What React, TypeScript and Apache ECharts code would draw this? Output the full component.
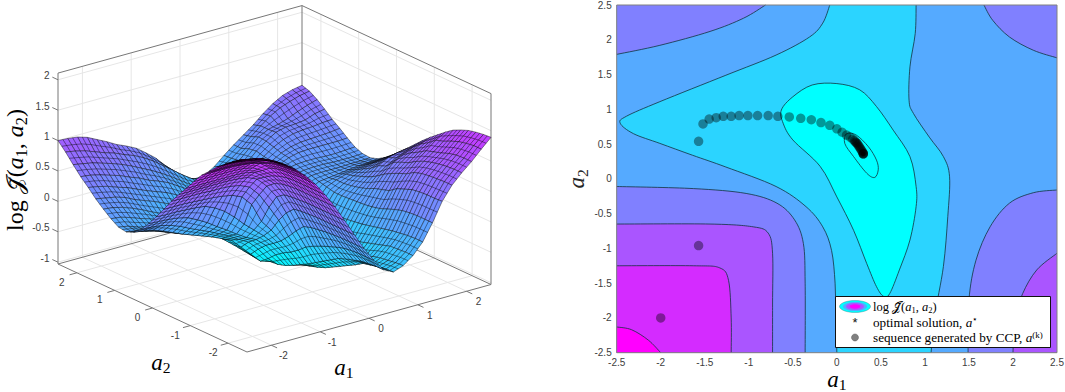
import React, { useEffect, useRef } from "react";
import * as echarts from "echarts";

const serif = "'Liberation Serif','DejaVu Serif',serif";
const sans = "'Liberation Sans',Arial,sans-serif";

// ---------- 3D surface values: rows are a2 = -2.5..2.5, columns a1 = -2.5..2.5, both in steps of 0.2
const surfaceA = [-2.5,-2.3,-2.1,-1.9,-1.7,-1.5,-1.3,-1.1,-0.9,-0.7,-0.5,-0.3,-0.1,0.1,0.3,0.5,0.7,0.9,1.1,1.3,1.5,1.7,1.9,2.1,2.3,2.5];
const surfaceRows = [
[2.12,2.09,2.04,1.97,1.87,1.75,1.6,1.42,1.2,.96,.69,.41,.14,-.1,-.3,-.38,-.32,-.2,-.02,.25,.56,.78,.94,1.08,1.24,1.39],
[2.07,2.03,2,1.94,1.85,1.74,1.6,1.42,1.2,.96,.69,.41,.14,-.1,-.3,-.39,-.33,-.2,-.02,.25,.55,.78,.94,1.08,1.24,1.38],
[1.98,1.97,1.94,1.9,1.82,1.73,1.59,1.42,1.2,.96,.69,.41,.14,-.1,-.31,-.41,-.35,-.21,-.03,.25,.55,.77,.93,1.07,1.22,1.36],
[1.88,1.88,1.86,1.83,1.79,1.71,1.58,1.41,1.2,.96,.69,.41,.14,-.11,-.33,-.44,-.37,-.22,-.05,.24,.54,.76,.91,1.04,1.19,1.33],
[1.78,1.78,1.77,1.75,1.72,1.67,1.56,1.4,1.2,.96,.69,.41,.13,-.13,-.37,-.47,-.4,-.26,-.07,.22,.52,.74,.88,.99,1.14,1.28],
[1.65,1.65,1.65,1.64,1.62,1.59,1.52,1.38,1.19,.96,.69,.41,.12,-.17,-.41,-.55,-.46,-.3,-.1,.18,.47,.7,.84,.95,1.08,1.22],
[1.53,1.53,1.53,1.53,1.52,1.5,1.46,1.34,1.16,.95,.68,.4,.1,-.22,-.46,-.62,-.51,-.34,-.13,.13,.42,.62,.78,.91,1.04,1.13],
[1.37,1.37,1.37,1.37,1.37,1.36,1.33,1.24,1.11,.93,.67,.39,.08,-.27,-.54,-.69,-.58,-.38,-.16,.08,.33,.57,.7,.83,.94,1.03],
[1.2,1.2,1.2,1.2,1.2,1.2,1.19,1.15,1.03,.88,.65,.37,.04,-.33,-.62,-.76,-.66,-.43,-.19,.05,.29,.51,.65,.76,.86,.93],
[1.04,1.04,1.04,1.04,1.04,1.04,1.03,1.01,.94,.78,.56,.25,-.09,-.4,-.7,-.83,-.71,-.47,-.21,.03,.25,.44,.59,.67,.75,.82],
[.87,.87,.87,.87,.86,.86,.85,.82,.75,.58,.33,.07,-.24,-.51,-.78,-.88,-.76,-.5,-.23,.02,.19,.35,.47,.56,.63,.7],
[.68,.68,.68,.67,.66,.65,.63,.6,.53,.36,.04,-.15,-.37,-.6,-.85,-.92,-.78,-.5,-.24,.01,.15,.28,.42,.51,.55,.58],
[.5,.49,.49,.48,.47,.45,.38,.28,.14,-.02,-.16,-.3,-.47,-.67,-.92,-.95,-.79,-.5,-.24,0,.12,.23,.32,.39,.43,.46],
[.33,.32,.31,.29,.25,.17,.08,-.03,-.13,-.24,-.34,-.42,-.56,-.76,-.98,-.98,-.77,-.47,-.22,0,.1,.18,.25,.3,.33,.35],
[.18,.17,.15,.11,.05,-.03,-.1,-.17,-.25,-.33,-.43,-.52,-.68,-.88,-1.02,-.97,-.7,-.42,-.15,.03,.1,.15,.18,.21,.23,.25],
[.07,.05,.02,-.04,-.11,-.18,-.24,-.3,-.36,-.43,-.5,-.66,-.82,-.98,-1.03,-.88,-.58,-.3,-.03,.06,.08,.1,.12,.14,.15,.17],
[.02,-.01,-.06,-.1,-.16,-.22,-.26,-.31,-.36,-.42,-.55,-.68,-.82,-.96,-.9,-.7,-.43,-.12,.05,.1,.11,.11,.11,.12,.12,.13],
[.04,.01,-.05,-.09,-.14,-.19,-.24,-.29,-.34,-.42,-.53,-.64,-.74,-.82,-.74,-.54,-.28,0,.1,.13,.14,.14,.13,.13,.13,.14],
[.12,.1,.05,-.01,-.06,-.12,-.17,-.23,-.29,-.38,-.5,-.6,-.67,-.68,-.6,-.42,-.16,.06,.14,.17,.18,.18,.17,.17,.18,.19],
[.22,.2,.16,.1,.03,-.05,-.12,-.19,-.27,-.34,-.44,-.51,-.55,-.54,-.49,-.35,-.13,.05,.15,.22,.26,.27,.27,.27,.27,.28],
[.33,.3,.27,.22,.14,.08,.02,-.05,-.12,-.2,-.28,-.36,-.41,-.42,-.38,-.28,-.1,.03,.15,.24,.3,.33,.34,.35,.36,.38],
[.46,.43,.39,.33,.28,.21,.14,.08,.02,-.06,-.15,-.24,-.3,-.31,-.27,-.2,-.08,.04,.17,.28,.36,.41,.43,.44,.46,.47],
[.58,.56,.52,.47,.42,.35,.29,.21,.15,.08,-.02,-.12,-.22,-.25,-.23,-.15,-.05,.05,.2,.32,.42,.46,.47,.49,.55,.58],
[.72,.69,.66,.61,.56,.5,.43,.35,.27,.18,.08,-.03,-.14,-.21,-.21,-.13,-.04,.03,.18,.33,.41,.45,.5,.57,.63,.68],
[.87,.84,.8,.74,.68,.63,.56,.5,.42,.32,.2,.08,-.04,-.15,-.21,-.18,-.09,.01,.13,.28,.41,.53,.62,.68,.73,.76],
[1,.99,.97,.92,.84,.76,.67,.6,.52,.4,.27,.1,-.06,-.19,-.25,-.24,-.14,0,.13,.25,.37,.51,.63,.72,.77,.8],
];
const a1Ticks3d = [-2, -1, 0, 1, 2];
const a2Ticks3d = [-2, -1, 0, 1, 2];
const zTicks3d = [-1, -0.5, 0, 0.5, 1, 1.5, 2];

// ---------- contour lines, [a1, a2]
const c05UL = [[-2.5,1.79],[-2.01,1.92],[-1.44,2.12],[-1.06,2.31],[-.81,2.5]];
const c05UR = [[1.67,2.5],[1.77,2.28],[1.96,2.04],[2.23,1.85],[2.5,1.74]];
const c05LR = [[2.5,-.16],[2.23,-.2],[1.96,-.35],[1.74,-.69],[1.58,-1.17],[1.5,-1.74],[1.49,-2.5]];
const c05LL = [[-2.5,-.11],[-1.63,-.14],[-1.03,-.21],[-.68,-.35],[-.48,-.59],[-.38,-.93],[-.36,-1.5],[-.36,-2.5]];
const c10LL = [[-2.5,-.65],[-1.44,-.65],[-.95,-.69],[-.78,-.78],[-.73,-1.07],[-.73,-1.8],[-.73,-2.5]];
const c10LR = [[2.5,-1.07],[2.27,-1.31],[2.11,-1.65],[2.02,-2.03],[2,-2.5]];
const c15LL = [[-2.5,-1.25],[-1.63,-1.25],[-1.33,-1.28],[-1.23,-1.46],[-1.2,-2],[-1.2,-2.5]];
const c20LL = [[-2.5,-2.13],[-2.33,-2.17],[-2.14,-2.32],[-2,-2.5]];
const c00Left = [[0,-2.5],[-.01,-2],[-.02,-1.5],[-.06,-1.03],[-.16,-.69],[-.35,-.4],[-.69,-.11],[-1.26,.17],[-1.64,.34],[-2.01,.51],[-2.31,.65],[-2.46,.8],[-2.39,.9],[-2.01,1.11],[-1.26,1.49],[-.69,1.78],[-.31,2.04],[-.16,2.24],[-.08,2.5]];
const c00Right = [[.9,2.5],[.89,2.09],[.83,1.61],[.82,1.13],[.87,.94],[1.05,.6],[1.21,.32],[1.28,.03],[1.26,-.54],[1.21,-1.26],[1.11,-1.98],[1.07,-2.5]];
const cN05 = [[-.63,.99],[-.5,1.18],[-.28,1.35],[0,1.37],[.26,1.28],[.45,1.04],[.64,.7],[.83,.32],[.9,-.11],[.9,-.4],[.83,-.88],[.71,-1.31],[.6,-1.65],[.53,-1.69],[.45,-1.55],[.34,-1.22],[.19,-.74],[0,-.26],[-.19,.18],[-.5,.56],[-.61,.8]];
const cN10 = [[.11,.65],[.22,.63],[.36,.46],[.45,.27],[.47,.13],[.43,.02],[.34,.08],[.19,.32],[.09,.51]];

// ---------- CCP sequence, [a1, a2]
const ccpSequence = [[-2,-2],[-1.57,-.96],[-1.57,.54],[-1.52,.79],[-1.45,.86],[-1.37,.88],[-1.29,.9],[-1.2,.9],[-1.11,.91],[-1.01,.91],[-.9,.91],[-.78,.91],[-.67,.9],[-.54,.89],[-.41,.87],[-.29,.85],[-.18,.81],[-.08,.77],[0,.72],[.06,.67],[.11,.63],[.15,.6],[.18,.57],[.2,.55],[.21,.53],[.22,.52],[.23,.51],[.24,.49],[.25,.47],[.26,.45],[.27,.43],[.28,.41],[.29,.39],[.3,.37],[.3,.36],[.3,.36],[.3,.36]];
const optimalSolution = [[.3,.36]];
const axisTicks2d = [-2.5, 2.5, 0.5];

const zFloor = -1.03, zTop = 2.11, lim = 2.5;
const project = (a1: number, a2: number, z: number) => [
  274.5 + 48.8 * a1 - 37.8 * a2,
  274.25 - 13.5 * a1 - 17.6 * a2 - (z - zFloor) * 60.8,
];
const cool = (z: number) => {
  const t = Math.max(0, Math.min(1, (z + 1.04) / 3.16));
  return `rgb(${Math.round(255 * t)},${Math.round(255 * (1 - t))},255)`;
};

// ---------- 3D frame
type Seg = { p: number[]; q: number[]; c: string; w: number };
const wall = "#e6e6e6", edge = "#777777";
const segs: Seg[] = [];
a1Ticks3d.forEach((v) => {
  segs.push({ p: [v, lim, zFloor], q: [v, lim, zTop], c: wall, w: 1 });
  segs.push({ p: [v, -lim, zFloor], q: [v, lim, zFloor], c: wall, w: 1 });
});
a2Ticks3d.forEach((v) => {
  segs.push({ p: [lim, v, zFloor], q: [lim, v, zTop], c: wall, w: 1 });
  segs.push({ p: [-lim, v, zFloor], q: [lim, v, zFloor], c: wall, w: 1 });
});
zTicks3d.forEach((v) => {
  segs.push({ p: [-lim, lim, v], q: [lim, lim, v], c: wall, w: 1 });
  segs.push({ p: [lim, lim, v], q: [lim, -lim, v], c: wall, w: 1 });
  segs.push({ p: [-lim, lim, v], q: [-lim, lim + 0.15, v], c: edge, w: 1 });
});
a1Ticks3d.forEach((v) => segs.push({ p: [v, -lim, zFloor], q: [v, -lim - 0.15, zFloor], c: edge, w: 1 }));
a2Ticks3d.forEach((v) => segs.push({ p: [-lim, v, zFloor], q: [-lim - 0.15, v, zFloor], c: edge, w: 1 }));
([
  [[-lim, lim, zFloor], [-lim, lim, zTop]],
  [[lim, lim, zFloor], [lim, lim, zTop]],
  [[lim, -lim, zFloor], [lim, -lim, zTop]],
  [[-lim, lim, zTop], [lim, lim, zTop]],
  [[lim, lim, zTop], [lim, -lim, zTop]],
  [[-lim, lim, zFloor], [lim, lim, zFloor]],
  [[lim, lim, zFloor], [lim, -lim, zFloor]],
  [[-lim, lim, zFloor], [-lim, -lim, zFloor]],
  [[-lim, -lim, zFloor], [lim, -lim, zFloor]],
] as number[][][]).forEach(([p, q]) => segs.push({ p, q, c: edge, w: 1 }));

// ---------- surface cells, far to near
const cells: number[][] = [];
for (let j = surfaceRows.length - 2; j >= 0; j--) for (let i = surfaceA.length - 2; i >= 0; i--) cells.push([i, j]);

// ---------- 3D labels
const tick3d: { t: string; x: number; y: number; a: string }[] = [];
zTicks3d.forEach((v) => {
  const [x, y] = project(-lim, lim, v);
  tick3d.push({ t: String(v), x: x - 8.5, y: y - 4, a: "right" });
});
a2Ticks3d.forEach((v) => {
  const [x, y] = project(-lim, v, zFloor);
  tick3d.push({ t: String(v), x: x - 15, y: y + 9.5, a: "center" });
});
a1Ticks3d.forEach((v) => {
  const [x, y] = project(v, -lim, zFloor);
  tick3d.push({ t: String(v), x: x + 12, y: y + 10.5, a: "center" });
});

const mathRich = (size: number) => ({
  r: { fontFamily: serif, fontSize: size, color: "#262626", verticalAlign: "middle" },
  j: { fontFamily: "'DejaVu Sans','Noto Sans',serif", fontSize: size, color: "#262626" },
  i: { fontFamily: serif, fontStyle: "italic", fontSize: size, color: "#262626" },
  s: { fontFamily: serif, fontSize: size * 0.68, color: "#262626", verticalAlign: "bottom", padding: [size * 0.5, 0, 0, 0] },
  u: { fontFamily: serif, fontSize: size * 0.68, color: "#262626", verticalAlign: "top", padding: [0, 0, size * 0.45, 0] },
});

// ---------- filled contours
type Band = { fill: string; parts: number[][][]; corners: number[][][]; closed?: boolean };
const bands: Band[] = [
  { fill: "#55aaff", parts: [], corners: [[[-2.5,-2.5],[2.5,-2.5],[2.5,2.5],[-2.5,2.5]]] },
  { fill: "#8080ff", parts: [c05UL], corners: [[[-2.5,2.5]]] },
  { fill: "#8080ff", parts: [c05UR], corners: [[[2.5,2.5]]] },
  { fill: "#8080ff", parts: [c05LR], corners: [[[2.5,-2.5]]] },
  { fill: "#8080ff", parts: [c05LL], corners: [[[-2.5,-2.5]]] },
  { fill: "#aa55ff", parts: [c10LL], corners: [[[-2.5,-2.5]]] },
  { fill: "#aa55ff", parts: [c10LR], corners: [[[2.5,-2.5]]] },
  { fill: "#d42bff", parts: [c15LL], corners: [[[-2.5,-2.5]]] },
  { fill: "#ff00ff", parts: [c20LL], corners: [[[-2.5,-2.5]]] },
  { fill: "#2bd4ff", parts: [c00Left, c00Right], corners: [[], []] },
  { fill: "#00ffff", parts: [cN05], corners: [[]], closed: true },
  { fill: "#00ffff", parts: [cN10], corners: [[]], closed: true },
];

const fmt = (n: number) => n.toFixed(2);
function curve(pts: number[][], closed: boolean) {
  const n = pts.length;
  const at = (k: number) => (closed ? pts[(k + n) % n] : pts[Math.max(0, Math.min(n - 1, k))]);
  let d = "";
  const last = closed ? n : n - 1;
  for (let k = 0; k < last; k++) {
    const p0 = at(k - 1), p1 = at(k), p2 = at(k + 1), p3 = at(k + 2);
    d += `C${fmt(p1[0] + (p2[0] - p0[0]) / 6)} ${fmt(p1[1] + (p2[1] - p0[1]) / 6)} ${fmt(p2[0] - (p3[0] - p1[0]) / 6)} ${fmt(p2[1] - (p3[1] - p1[1]) / 6)} ${fmt(p2[0])} ${fmt(p2[1])}`;
  }
  return d;
}

export default function App() {
  const ref = useRef<HTMLDivElement>(null);
  useEffect(() => {
    document.body.style.margin = "0";
    const chart = echarts.init(ref.current!, null, { renderer: "svg" });
    const hiddenAxis = { type: "value", show: false };
    const tickLabel = { color: "#404040", fontFamily: sans, fontSize: 10, margin: 5, showMinLabel: true, showMaxLabel: true };
    const axis2d = {
      type: "value", gridIndex: 1, min: axisTicks2d[0], max: axisTicks2d[1], interval: axisTicks2d[2],
      axisLine: { show: false }, axisTick: { show: false }, splitLine: { show: false }, axisLabel: tickLabel,
      nameLocation: "middle",
    };
    chart.setOption({
      animation: false,
      grid: [
        { left: 0, top: 0, width: 530, height: 392, outerBoundsMode: "none" },
        { left: 616.7, top: 5, width: 440.3, height: 347.7, outerBoundsMode: "none" },
      ],
      xAxis: [
        { ...hiddenAxis, gridIndex: 0, min: 0, max: 530 },
        { ...axis2d },
      ],
      yAxis: [
        { ...hiddenAxis, gridIndex: 0, min: 0, max: 392, inverse: true },
        { ...axis2d, name: "{i|a}{s|2}", nameGap: 26, nameTextStyle: { rich: mathRich(23) } },
      ],
      series: [
        {
          type: "custom", name: "frame", xAxisIndex: 0, yAxisIndex: 0, silent: true,
          data: segs.map((_, i) => [i]),
          renderItem: (params: any, api: any) => {
            const s = segs[params.dataIndex];
            const a = api.coord(project(s.p[0], s.p[1], s.p[2]));
            const b = api.coord(project(s.q[0], s.q[1], s.q[2]));
            return { type: "line", shape: { x1: a[0], y1: a[1], x2: b[0], y2: b[1] }, style: { stroke: s.c, lineWidth: s.w } };
          },
        },
        {
          type: "custom", name: "surface", xAxisIndex: 0, yAxisIndex: 0, silent: true,
          data: cells,
          renderItem: (params: any, api: any) => {
            const [i, j] = cells[params.dataIndex];
            const z = surfaceRows;
            const pt = (ii: number, jj: number) => api.coord(project(surfaceA[ii], surfaceA[jj], z[jj][ii]));
            const p00 = pt(i, j), p10 = pt(i + 1, j), p11 = pt(i + 1, j + 1), p01 = pt(i, j + 1);
            const mid = (a: number[], b: number[]) => [(a[0] + b[0]) / 2, (a[1] + b[1]) / 2];
            const m1 = mid(p00, p10), m2 = mid(p01, p11), m3 = mid(p00, p01), m4 = mid(p10, p11);
            const mean = (z[j][i] + z[j][i + 1] + z[j + 1][i] + z[j + 1][i + 1]) / 4;
            const mesh = { stroke: "rgba(0,0,0,0.72)", lineWidth: 0.6 };
            return {
              type: "group",
              children: [
                { type: "polygon", shape: { points: [p00, p10, p11, p01] }, style: { fill: cool(mean), ...mesh } },
                { type: "line", shape: { x1: m1[0], y1: m1[1], x2: m2[0], y2: m2[1] }, style: mesh },
                { type: "line", shape: { x1: m3[0], y1: m3[1], x2: m4[0], y2: m4[1] }, style: mesh },
              ],
            };
          },
        },
        {
          type: "custom", name: "ticks3d", xAxisIndex: 0, yAxisIndex: 0, silent: true,
          data: tick3d.map((_, i) => [i]),
          renderItem: (params: any, api: any) => {
            const t = tick3d[params.dataIndex];
            const c = api.coord([t.x, t.y]);
            return { type: "text", x: c[0], y: c[1], style: { text: t.t, fill: "#404040", fontFamily: sans, fontSize: 10, align: t.a, verticalAlign: "middle" } };
          },
        },
        {
          type: "custom", name: "labels3d", xAxisIndex: 0, yAxisIndex: 0, silent: true,
          data: [[0], [1], [2]],
          renderItem: (params: any, api: any) => {
            const items = [
              { t: "{i|a}{s|2}", x: 161, y: 362, r: 0, size: 23 },
              { t: "{i|a}{s|1}", x: 344, y: 367, r: 0, size: 23 },
              { t: "{r|log }{j|𝒥̃}{r|(}{i|a}{s|1}{r|, }{i|a}{s|2}{r|)}", x: 15, y: 170, r: Math.PI / 2, size: 24 },
            ][params.dataIndex];
            const c = api.coord([items.x, items.y]);
            return { type: "text", x: c[0], y: c[1], rotation: items.r, style: { text: items.t, rich: mathRich(items.size), align: "center", verticalAlign: "middle" } };
          },
        },
        {
          type: "custom", name: "filled contours", xAxisIndex: 1, yAxisIndex: 1, silent: true, z: 2,
          data: bands.map((_, i) => [i]),
          renderItem: (params: any, api: any) => {
            const b = bands[params.dataIndex];
            const co = (p: number[]) => api.coord(p);
            let fill = "";
            const strokes: string[] = [];
            b.parts.forEach((part, k) => {
              const pts = part.map(co);
              fill += `${fill ? "L" : "M"}${fmt(pts[0][0])} ${fmt(pts[0][1])}` + curve(pts, !!b.closed);
              strokes.push(`M${fmt(pts[0][0])} ${fmt(pts[0][1])}` + curve(pts, !!b.closed));
              b.corners[k].map(co).forEach((c) => (fill += `L${fmt(c[0])} ${fmt(c[1])}`));
            });
            if (!b.parts.length) b.corners[0].map(co).forEach((c, n) => (fill += `${n ? "L" : "M"}${fmt(c[0])} ${fmt(c[1])}`));
            const children: any[] = [{ type: "path", shape: { pathData: fill + "Z" }, style: { fill: b.fill } }];
            strokes.forEach((d) => children.push({ type: "path", shape: { pathData: d }, style: { fill: "none", stroke: "#12343f", lineWidth: 0.8 } }));
            return { type: "group", children };
          },
        },
        {
          type: "custom", name: "plot box", xAxisIndex: 1, yAxisIndex: 1, silent: true, z: 3,
          data: [[0]],
          renderItem: (_: any, api: any) => {
            const a = api.coord([-2.5, 2.5]), b = api.coord([2.5, -2.5]);
            return { type: "rect", shape: { x: a[0], y: a[1], width: b[0] - a[0], height: b[1] - a[1] }, style: { fill: "none", stroke: "#808080", lineWidth: 1 } };
          },
        },
        {
          type: "scatter", name: "optimal solution", xAxisIndex: 1, yAxisIndex: 1, z: 4, silent: true,
          data: optimalSolution, symbolSize: 5, itemStyle: { color: "#000" },
        },
        {
          type: "scatter", name: "sequence generated by CCP", xAxisIndex: 1, yAxisIndex: 1, z: 5, silent: true,
          data: ccpSequence, symbolSize: 9.5, itemStyle: { color: "rgba(0,0,0,0.5)" },
        },
      ],
      graphic: [
        { type: "text", z: 21, x: 837, y: 379, style: { text: "{i|a}{s|1}", rich: mathRich(23), align: "center", verticalAlign: "middle" } },
        { type: "rect", z: 20, shape: { x: 835.5, y: 296.5, width: 215, height: 51 }, style: { fill: "#fff", stroke: "#111", lineWidth: 1 } },
        { type: "ellipse", z: 21, shape: { cx: 855, cy: 306.5, rx: 15.5, ry: 6 }, style: { fill: "#00ffff", stroke: "#1a5560", lineWidth: 0.3 } },
        { type: "ellipse", z: 21, shape: { cx: 855, cy: 306.5, rx: 12, ry: 4.6 }, style: { fill: "#55aaff" } },
        { type: "ellipse", z: 21, shape: { cx: 855, cy: 306.5, rx: 9, ry: 3.5 }, style: { fill: "#aa55ff" } },
        { type: "ellipse", z: 21, shape: { cx: 855, cy: 306.5, rx: 5.5, ry: 2.2 }, style: { fill: "#ff00ff" } },
        { type: "text", z: 21, x: 855, y: 322, style: { text: "*", fill: "#111", fontFamily: sans, fontSize: 13, align: "center", verticalAlign: "middle" } },
        { type: "circle", z: 21, shape: { cx: 855, cy: 337.5, r: 3.5 }, style: { fill: "#808080", stroke: "#555", lineWidth: 0.5 } },
        { type: "text", z: 21, x: 873, y: 306.5, style: { text: "{r|log }{j|𝒥̃}{r|(}{i|a}{s|1}{r|, }{i|a}{s|2}{r|)}", rich: mathRich(12.5), verticalAlign: "middle" } },
        { type: "text", z: 21, x: 873, y: 322, style: { text: "{r|optimal solution, }{i|a}{u|⋆}", rich: mathRich(13.2), verticalAlign: "middle" } },
        { type: "text", z: 21, x: 873, y: 337.5, style: { text: "{r|sequence generated by CCP, }{i|a}{u|(k)}", rich: mathRich(13.2), verticalAlign: "middle" } },
      ],
    });
    return () => chart.dispose();
  }, []);
  return <div ref={ref} style={{ width: 1065, height: 392 }} />;
}
